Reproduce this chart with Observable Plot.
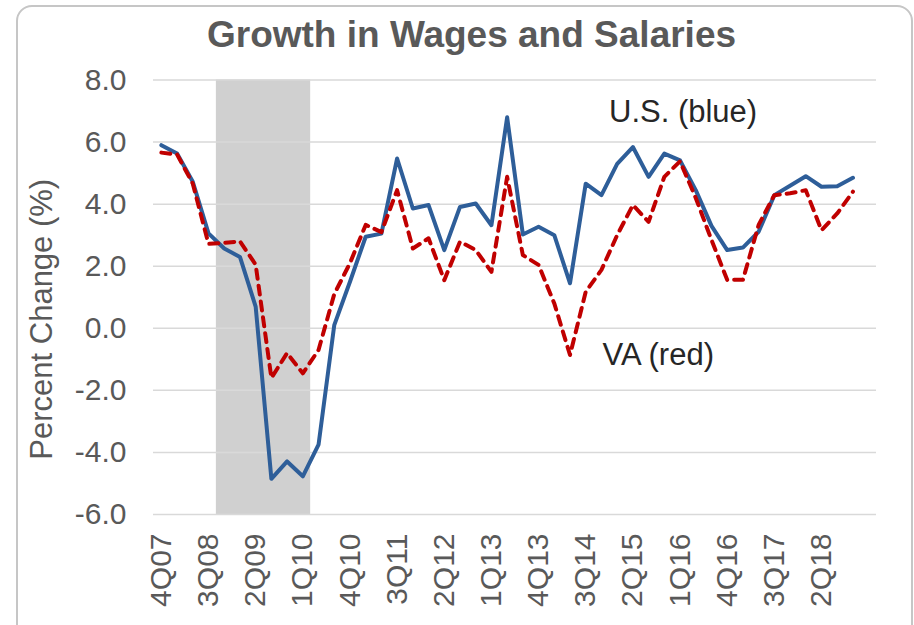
<!DOCTYPE html>
<html><head><meta charset="utf-8">
<script src="https://cdn.jsdelivr.net/npm/d3@7"></script>
<script src="https://cdn.jsdelivr.net/npm/@observablehq/plot@0.6"></script>
<style>
body{margin:0;background:#fff;}
#wrap{position:relative;width:914px;height:625px;overflow:hidden;font-family:"Liberation Sans",Arial,sans-serif;}
#frame{position:absolute;left:16px;top:5px;width:897px;height:700px;border:2px solid #c6c6c6;border-radius:16px;box-sizing:border-box;}
#title{position:absolute;left:0;width:943px;top:16px;text-align:center;font-weight:bold;font-size:37px;line-height:37px;color:#595959;}
#chart{position:absolute;left:0;top:62px;}
</style></head>
<body>
<div id="wrap">
  <div id="frame"></div>
  <div id="title">Growth in Wages and Salaries</div>
  <div id="chart"></div>
</div>
<script>
const quarters = ["4Q07","1Q08","2Q08","3Q08","4Q08","1Q09","2Q09","3Q09","4Q09","1Q10","2Q10","3Q10","4Q10",
  "1Q11","2Q11","3Q11","4Q11","1Q12","2Q12","3Q12","4Q12","1Q13","2Q13","3Q13","4Q13",
  "1Q14","2Q14","3Q14","4Q14","1Q15","2Q15","3Q15","4Q15","1Q16","2Q16","3Q16","4Q16",
  "1Q17","2Q17","3Q17","4Q17","1Q18","2Q18","3Q18","4Q18"];
const usValues = [5.9,5.63,4.72,3.06,2.57,2.3,0.7,-4.85,-4.29,-4.77,-3.75,0.1,1.5,
  2.95,3.05,5.47,3.86,3.97,2.52,3.91,4.02,3.32,6.8,3.02,3.27,
  3.0,1.45,4.66,4.29,5.3,5.84,4.88,5.63,5.41,4.45,3.3,2.52,
  2.6,3.11,4.29,4.59,4.9,4.56,4.58,4.85];
const vaValues = [5.66,5.6,4.66,2.72,2.75,2.8,2.05,-1.6,-0.8,-1.45,-0.7,1.1,2.1,
  3.33,3.1,4.45,2.57,2.9,1.55,2.79,2.52,1.82,4.88,2.36,2.04,
  0.8,-0.86,1.18,1.88,3.0,3.97,3.43,4.88,5.38,4.2,2.85,1.56,
  1.56,3.33,4.29,4.35,4.45,3.16,3.7,4.4];
const xTickLabels = ["4Q07","3Q08","2Q09","1Q10","4Q10","3Q11","2Q12","1Q13","4Q13","3Q14","2Q15","1Q16","4Q16","3Q17","2Q18"];
const yTicks = [-6,-4,-2,0,2,4,6,8];
const recession = [{start:"4Q08", end:"1Q10"}];
const annotations = [
  {text:"U.S. (blue)", x:28.48, y:6.97},
  {text:"VA (red)", x:28.07, y:-0.85}
];

const us = quarters.map((q,i)=>({i, v:usValues[i]}));
const va = quarters.map((q,i)=>({i, v:vaValues[i]}));
const tickIdx = xTickLabels.map(l => quarters.indexOf(l));

const chart = Plot.plot({
  width: 914, height: 563,
  marginLeft: 153, marginRight: 38, marginTop: 17.5, marginBottom: 111,
  x: {domain: [-0.5, 45.5]},
  y: {domain: [-6, 8]},
  style: {fontFamily: "'Liberation Sans', Arial, sans-serif", background: "transparent", overflow: "visible"},
  marks: [
    Plot.rect(recession, {x1: d => quarters.indexOf(d.start) - 0.5, x2: d => quarters.indexOf(d.end) + 0.5, y1: -6, y2: 8, fill: "#d0d0d0"}),
    Plot.ruleY(yTicks, {stroke: "#d9d9d9", strokeWidth: 1.5}),
    Plot.axisY({ticks: yTicks, tickFormat: d => d.toFixed(1), tickSize: 0, tickPadding: 27, fontSize: 30, color: "#595959", label: null}),
    Plot.axisX({ticks: tickIdx, tickFormat: i => quarters[i], tickRotate: -90, tickSize: 0, tickPadding: 19, fontSize: 30, color: "#595959", label: null}),
    Plot.text(["Percent Change (%)"], {frameAnchor: "left", textAnchor: "middle", rotate: -90, dx: -111, dy: 22, fontSize: 31, fill: "#595959"}),
    Plot.line(us, {x: "i", y: "v", stroke: "#2e5e99", strokeWidth: 4, strokeLinejoin: "round"}),
    Plot.line(va, {x: "i", y: "v", stroke: "#c00000", strokeWidth: 4, strokeDasharray: "9,7", strokeLinecap: "round", strokeLinejoin: "round"}),
    Plot.text(annotations, {x: "x", y: "y", text: "text", textAnchor: "start", fontSize: 31, fill: "#262626"})
  ]
});
document.getElementById("chart").appendChild(chart);
</script>
</body></html>
